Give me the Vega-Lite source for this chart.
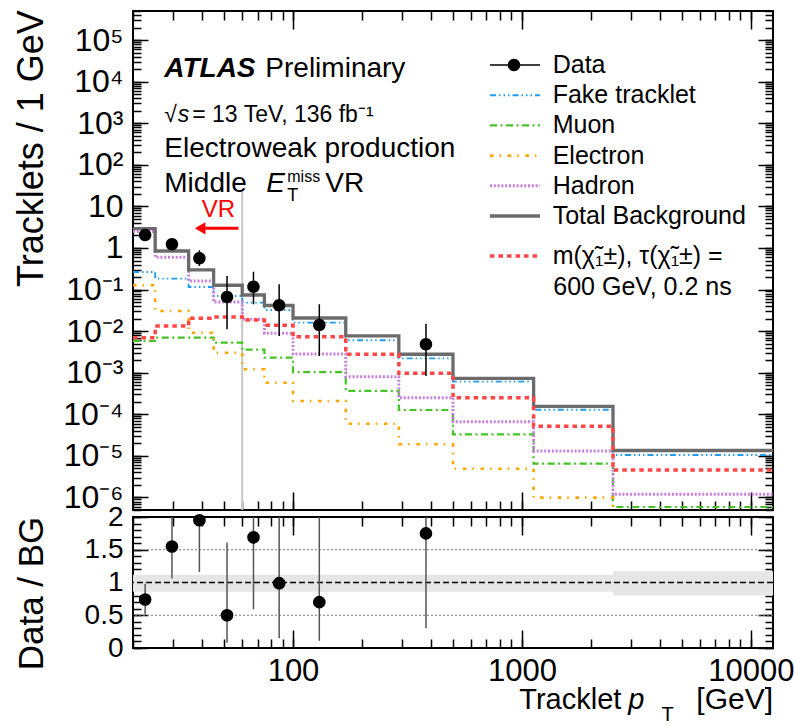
{
  "$schema": "https://vega.github.io/schema/vega-lite/v6.json",
  "background": "white",
  "padding": {"left": 12, "top": 8, "right": 0, "bottom": 0},
  "bounds": "flush",
  "spacing": 7,
  "config": {
    "font": "Liberation Sans",
    "view": {"stroke": "black", "strokeWidth": 2},
    "axis": {"domain": false, "grid": false, "ticks": true, "tickColor": "black", "tickWidth": 1.5, "tickOpacity": 1, "labelColor": "black", "labelFont": "Liberation Sans", "titleFont": "Liberation Sans", "titleColor": "black", "titleFontWeight": "normal", "labelFlush": false, "labelOverlap": false, "labelBound": false, "zindex": 1},
    "legend": {"padding": 0, "labelFont": "Liberation Sans", "labelColor": "black", "labelLimit": 0},
    "text": {"font": "Liberation Sans", "color": "black"}
  },
  "datasets": {
    "hist": [
      {"x": 20, "Fake tracklet": 0.265, "Muon": 0.0058, "Electron": 0.127, "Hadron": 2.5, "Total Background": 2.91, "Signal": 0.00697},
      {"x": 25, "Fake tracklet": 0.183, "Muon": 0.00697, "Electron": 0.0305, "Hadron": 0.6, "Total Background": 0.847, "Signal": 0.0133},
      {"x": 35, "Fake tracklet": 0.115, "Muon": 0.00697, "Electron": 0.00918, "Hadron": 0.161, "Total Background": 0.296, "Signal": 0.0204},
      {"x": 45, "Fake tracklet": 0.0701, "Muon": 0.00528, "Electron": 0.00303, "Hadron": 0.0503, "Total Background": 0.127, "Signal": 0.0219},
      {"x": 60, "Fake tracklet": 0.0484, "Muon": 0.00358, "Electron": 0.00121, "Hadron": 0.0193, "Total Background": 0.0741, "Signal": 0.0186},
      {"x": 75, "Fake tracklet": 0.0323, "Muon": 0.0023, "Electron": 0.000575, "Hadron": 0.00889, "Total Background": 0.0414, "Signal": 0.0138},
      {"x": 100, "Fake tracklet": 0.016, "Muon": 0.00103, "Electron": 0.000209, "Hadron": 0.00282, "Total Background": 0.0207, "Signal": 0.00732},
      {"x": 170, "Fake tracklet": 0.00603, "Muon": 0.000364, "Electron": 0.0000595, "Hadron": 0.000803, "Total Background": 0.00766, "Signal": 0.00278},
      {"x": 290, "Fake tracklet": 0.00222, "Muon": 0.000127, "Electron": 0.000019, "Hadron": 0.000251, "Total Background": 0.00278, "Signal": 0.00097},
      {"x": 500, "Fake tracklet": 0.000609, "Muon": 0.000033, "Electron": 0.00000492, "Hadron": 0.0000664, "Total Background": 0.000735, "Signal": 0.000251},
      {"x": 1125, "Fake tracklet": 0.000129, "Muon": 0.00000649, "Electron": 0.00000099, "Hadron": 0.0000131, "Total Background": 0.000156, "Signal": 0.0000515},
      {"x": 2500, "Fake tracklet": 0.0000105, "Muon": 0.00000059, "Electron": 0.00000001, "Hadron": 0.00000119, "Total Background": 0.0000135, "Signal": 0.00000458},
      {"x": 12500, "Fake tracklet": 0.0000105, "Muon": 0.00000059, "Electron": 0.00000001, "Hadron": 0.00000119, "Total Background": 0.0000135, "Signal": 0.00000458}
    ],
    "pts": [
      {"pt": 22.6, "v": 2.05, "lo": 1.65, "hi": 2.8, "r": 0.74, "rlo": 0.51, "rhi": 0.98, "series": "Data"},
      {"pt": 29.6, "v": 1.23, "lo": 0.95, "hi": 1.6, "r": 1.55, "rlo": 1.06, "rhi": 2.1, "series": "Data"},
      {"pt": 39, "v": 0.565, "lo": 0.369, "hi": 0.88, "r": 1.95, "rlo": 1.16, "rhi": 2.9, "series": "Data"},
      {"pt": 51.5, "v": 0.0663, "lo": 0.0111, "hi": 0.212, "r": 0.5, "rlo": 0.08, "rhi": 1.61, "series": "Data"},
      {"pt": 67.2, "v": 0.117, "lo": 0.0443, "hi": 0.269, "r": 1.69, "rlo": 0.59, "rhi": 3.6, "series": "Data"},
      {"pt": 87, "v": 0.0419, "lo": 0.00765, "hi": 0.134, "r": 0.99, "rlo": 0.15, "rhi": 3.2, "series": "Data"},
      {"pt": 130.3, "v": 0.0141, "lo": 0.00253, "hi": 0.0443, "r": 0.7, "rlo": 0.11, "rhi": 2.14, "series": "Data"},
      {"pt": 381, "v": 0.00483, "lo": 0.000835, "hi": 0.0151, "r": 1.75, "rlo": 0.3, "rhi": 5.4, "series": "Data"}
    ],
    "band": [
      {"a": 20, "b": 2500, "lo": 0.86, "hi": 1.12},
      {"a": 2500, "b": 12500, "lo": 0.8, "hi": 1.17}
    ]
  },
  "vconcat": [
    {
      "width": 640,
      "height": 499,
      "resolve": {"axis": {"x": "independent", "y": "independent"}},
      "layer": [
        {
          "data": {"values": [{}]},
          "mark": {"type": "rule", "color": "#c8c8c8", "strokeWidth": 2},
          "encoding": {
            "x": {"datum": 60, "type": "quantitative", "scale": {"type": "log", "domain": [20, 12500], "nice": false},
              "axis": {"orient": "bottom", "values": [100, 1000, 10000], "labels": false, "title": null, "tickSize": 18, "offset": -18}},
            "y": {"datum": 23.5, "type": "quantitative", "scale": {"type": "log", "domain": [5e-7, 5e5], "nice": false},
              "axis": {"orient": "left", "values": [1e-6, 1e-5, 1e-4, 1e-3, 0.01, 0.1, 1, 10, 100, 1000, 10000, 100000], "tickSize": 15, "offset": -15,
                "labelPadding": 10, "labelFontSize": 32,
                "labelExpr": "['10⁻⁶','10⁻⁵','10⁻⁴','10⁻³','10⁻²','10⁻¹','1','10','10²','10³','10⁴','10⁵'][round(log(datum.value)/LN10) + 6]",
                "title": "Tracklets / 1 GeV", "titleFontSize": 36, "titleX": -117, "titleY": 137, "titleAngle": -90, "titleAlign": "center", "titleBaseline": "middle"}},
            "y2": {"datum": 5e-7}
          }
        },
        {
          "data": {"name": "hist"},
          "transform": [{"fold": ["Fake tracklet", "Muon", "Electron", "Hadron", "Total Background"], "as": ["series", "v"]}],
          "mark": {"type": "line", "interpolate": "step-after", "clip": true, "strokeCap": "butt"},
          "encoding": {
            "x": {"field": "x", "type": "quantitative", "scale": {"type": "log", "domain": [20, 12500], "nice": false},
              "axis": {"orient": "bottom", "values": [20,30,40,50,60,70,80,90,100,200,300,400,500,600,700,800,900,1000,2000,3000,4000,5000,6000,7000,8000,9000,10000], "labels": false, "title": null, "tickSize": 9, "offset": -9}},
            "y": {"field": "v", "type": "quantitative", "scale": {"type": "log", "domain": [5e-7, 5e5], "nice": false},
              "axis": {"orient": "left", "tickCount": 150, "labels": false, "title": null, "tickSize": 8, "offset": -8}},
            "color": {"field": "series", "type": "nominal",
              "scale": {"domain": ["Data", "Fake tracklet", "Muon", "Electron", "Hadron", "Total Background"], "range": ["black", "#1f9bf0", "#44c424", "#ffa500", "#c87fdc", "#6b6b6b"]},
              "legend": {"orient": "none", "legendX": 355, "legendY": 41.5, "title": null, "symbolType": "stroke", "symbolSize": 2500, "clipHeight": 25, "rowPadding": 4.2, "labelFontSize": 25, "labelOffset": 10.7}},
            "strokeDash": {"field": "series", "type": "nominal",
              "scale": {"domain": ["Data", "Fake tracklet", "Muon", "Electron", "Hadron", "Total Background"], "range": [[1,0], [6,3,1.5,3,1.5,3,1.5,3], [7,3.5,2,3.5], [3.5,6,1.5,6.7], [2,1.8], [1,0]]},
              "legend": {"orient": "none", "legendX": 355, "legendY": 41.5, "title": null, "symbolType": "stroke", "symbolSize": 2500, "clipHeight": 25, "rowPadding": 4.2, "labelFontSize": 25, "labelOffset": 10.7}},
            "strokeWidth": {"field": "series", "type": "nominal",
              "scale": {"domain": ["Data", "Fake tracklet", "Muon", "Electron", "Hadron", "Total Background"], "range": [1.5, 3.3, 3.3, 3.3, 3.3, 4]},
              "legend": {"orient": "none", "legendX": 355, "legendY": 41.5, "title": null, "symbolType": "stroke", "symbolSize": 2500, "clipHeight": 25, "rowPadding": 4.2, "labelFontSize": 25, "labelOffset": 10.7}}
          }
        },
        {
          "data": {"name": "hist"},
          "mark": {"type": "line", "interpolate": "step-after", "clip": true, "strokeCap": "butt", "strokeDash": [4.5, 4], "strokeWidth": 3.5},
          "encoding": {
            "x": {"field": "x", "type": "quantitative", "scale": {"type": "log", "domain": [20, 12500], "nice": false},
              "axis": {"orient": "top", "values": [100, 1000, 10000], "labels": false, "title": null, "tickSize": 18, "offset": -18}},
            "y": {"field": "Signal", "type": "quantitative", "scale": {"type": "log", "domain": [5e-7, 5e5], "nice": false},
              "axis": {"orient": "right", "values": [1e-6, 1e-5, 1e-4, 1e-3, 0.01, 0.1, 1, 10, 100, 1000, 10000, 100000], "labels": false, "title": null, "tickSize": 15, "offset": -15}},
            "stroke": {"datum": "Signal", "type": "nominal", "scale": {"domain": ["Signal"], "range": ["#ff4646"]},
              "legend": {"orient": "none", "legendX": 355, "legendY": 232.5, "title": null, "symbolType": "stroke", "symbolSize": 2500, "clipHeight": 25, "labelFontSize": 25, "labelOffset": 10.7, "symbolStrokeWidth": 3.5, "symbolDash": [4.5, 4], "labelExpr": "'m(χ̃₁±), τ(χ̃₁±) ='"}}
          }
        },
        {
          "data": {"name": "pts"},
          "mark": {"type": "rule", "clip": true},
          "encoding": {
            "x": {"field": "pt", "type": "quantitative", "scale": {"type": "log", "domain": [20, 12500], "nice": false},
              "axis": {"orient": "top", "values": [20,30,40,50,60,70,80,90,100,200,300,400,500,600,700,800,900,1000,2000,3000,4000,5000,6000,7000,8000,9000,10000], "labels": false, "title": null, "tickSize": 9, "offset": -9}},
            "y": {"field": "lo", "type": "quantitative", "scale": {"type": "log", "domain": [5e-7, 5e5], "nice": false},
              "axis": {"orient": "right", "tickCount": 150, "labels": false, "title": null, "tickSize": 8, "offset": -8}},
            "y2": {"field": "hi"},
            "color": {"field": "series", "type": "nominal",
              "scale": {"domain": ["Data", "Fake tracklet", "Muon", "Electron", "Hadron", "Total Background"], "range": ["black", "#1f9bf0", "#44c424", "#ffa500", "#c87fdc", "#6b6b6b"]},
              "legend": {"orient": "none", "legendX": 355, "legendY": 41.5, "title": null, "symbolType": "stroke", "symbolSize": 2500, "clipHeight": 25, "rowPadding": 4.2, "labelFontSize": 25, "labelOffset": 10.7}},
            "strokeDash": {"field": "series", "type": "nominal",
              "scale": {"domain": ["Data", "Fake tracklet", "Muon", "Electron", "Hadron", "Total Background"], "range": [[1,0], [6,3,1.5,3,1.5,3,1.5,3], [7,3.5,2,3.5], [3.5,6,1.5,6.7], [2,1.8], [1,0]]},
              "legend": {"orient": "none", "legendX": 355, "legendY": 41.5, "title": null, "symbolType": "stroke", "symbolSize": 2500, "clipHeight": 25, "rowPadding": 4.2, "labelFontSize": 25, "labelOffset": 10.7}},
            "strokeWidth": {"field": "series", "type": "nominal",
              "scale": {"domain": ["Data", "Fake tracklet", "Muon", "Electron", "Hadron", "Total Background"], "range": [1.5, 3.3, 3.3, 3.3, 3.3, 4]},
              "legend": {"orient": "none", "legendX": 355, "legendY": 41.5, "title": null, "symbolType": "stroke", "symbolSize": 2500, "clipHeight": 25, "rowPadding": 4.2, "labelFontSize": 25, "labelOffset": 10.7}}
          }
        },
        {
          "data": {"name": "pts"},
          "mark": {"type": "point", "filled": true, "color": "black", "size": 2500, "opacity": 1},
          "encoding": {
            "x": {"field": "pt", "type": "quantitative", "scale": {"type": "log", "domain": [20, 12500], "nice": false}, "axis": null},
            "y": {"field": "v", "type": "quantitative", "scale": {"type": "log", "domain": [5e-7, 5e5], "nice": false}, "axis": null},
            "shape": {"field": "series", "type": "nominal",
              "scale": {"domain": ["Data"], "range": ["M-1,0H1M0.25,0A0.25,0.25,0,1,1,-0.25,0A0.25,0.25,0,1,1,0.25,0Z"]},
              "legend": {"orient": "none", "legendX": 355, "legendY": 41.5, "title": null, "symbolSize": 2500, "clipHeight": 25, "labelFontSize": 25, "labelOffset": 10.7, "labelExpr": "''"}}
          }
        },
        {
          "data": {"values": [{}]},
          "mark": {"type": "rule", "color": "#ff0000", "strokeWidth": 3},
          "encoding": {
            "x": {"datum": 40, "type": "quantitative", "scale": {"type": "log", "domain": [20, 12500], "nice": false}, "axis": null},
            "x2": {"datum": 57.8},
            "y": {"datum": 2.98, "type": "quantitative", "scale": {"type": "log", "domain": [5e-7, 5e5], "nice": false}, "axis": null}
          }
        },
        {
          "data": {"values": [{}]},
          "mark": {"type": "point", "shape": "triangle-left", "filled": true, "color": "#ff0000", "size": 150, "opacity": 1},
          "encoding": {
            "x": {"datum": 39.3, "type": "quantitative", "scale": {"type": "log", "domain": [20, 12500], "nice": false}, "axis": null},
            "y": {"datum": 2.98, "type": "quantitative", "scale": {"type": "log", "domain": [5e-7, 5e5], "nice": false}, "axis": null}
          }
        },
        {
          "data": {"values": [{}]},
          "mark": {"type": "text", "text": "VR", "color": "#ff0000", "fontSize": 24, "align": "center", "baseline": "alphabetic"},
          "encoding": {
            "x": {"datum": 47.2, "type": "quantitative", "scale": {"type": "log", "domain": [20, 12500], "nice": false}, "axis": null},
            "y": {"datum": 5.57, "type": "quantitative", "scale": {"type": "log", "domain": [5e-7, 5e5], "nice": false}, "axis": null}
          }
        },
        {
          "data": {"values": [{}]},
          "mark": {"type": "text", "text": "ATLAS", "fontSize": 28, "fontWeight": "bold", "fontStyle": "italic", "align": "left", "baseline": "alphabetic"},
          "encoding": {
            "x": {"datum": 27.4, "type": "quantitative", "scale": {"type": "log", "domain": [20, 12500], "nice": false}, "axis": null},
            "y": {"datum": 12970, "type": "quantitative", "scale": {"type": "log", "domain": [5e-7, 5e5], "nice": false}, "axis": null}
          }
        },
        {
          "data": {"values": [{}]},
          "mark": {"type": "text", "text": "Preliminary", "fontSize": 28, "align": "left", "baseline": "alphabetic"},
          "encoding": {
            "x": {"datum": 75.7, "type": "quantitative", "scale": {"type": "log", "domain": [20, 12500], "nice": false}, "axis": null},
            "y": {"datum": 12970, "type": "quantitative", "scale": {"type": "log", "domain": [5e-7, 5e5], "nice": false}, "axis": null}
          }
        },
        {
          "data": {"values": [{}]},
          "mark": {"type": "text", "text": "√", "fontSize": 23, "align": "left", "baseline": "alphabetic"},
          "encoding": {
            "x": {"datum": 27.4, "type": "quantitative", "scale": {"type": "log", "domain": [20, 12500], "nice": false}, "axis": null},
            "y": {"datum": 1072, "type": "quantitative", "scale": {"type": "log", "domain": [5e-7, 5e5], "nice": false}, "axis": null}
          }
        },
        {
          "data": {"values": [{}]},
          "mark": {"type": "text", "text": "s", "fontSize": 23, "fontStyle": "italic", "align": "left", "baseline": "alphabetic"},
          "encoding": {
            "x": {"datum": 31.4, "type": "quantitative", "scale": {"type": "log", "domain": [20, 12500], "nice": false}, "axis": null},
            "y": {"datum": 1072, "type": "quantitative", "scale": {"type": "log", "domain": [5e-7, 5e5], "nice": false}, "axis": null}
          }
        },
        {
          "data": {"values": [{}]},
          "mark": {"type": "text", "text": "= 13 TeV, 136 fb⁻¹", "fontSize": 23, "align": "left", "baseline": "alphabetic"},
          "encoding": {
            "x": {"datum": 36.3, "type": "quantitative", "scale": {"type": "log", "domain": [20, 12500], "nice": false}, "axis": null},
            "y": {"datum": 1072, "type": "quantitative", "scale": {"type": "log", "domain": [5e-7, 5e5], "nice": false}, "axis": null}
          }
        },
        {
          "data": {"values": [{}]},
          "mark": {"type": "text", "text": "Electroweak production", "fontSize": 28, "align": "left", "baseline": "alphabetic"},
          "encoding": {
            "x": {"datum": 27.4, "type": "quantitative", "scale": {"type": "log", "domain": [20, 12500], "nice": false}, "axis": null},
            "y": {"datum": 150, "type": "quantitative", "scale": {"type": "log", "domain": [5e-7, 5e5], "nice": false}, "axis": null}
          }
        },
        {
          "data": {"values": [{}]},
          "mark": {"type": "text", "text": "Middle", "fontSize": 28, "align": "left", "baseline": "alphabetic"},
          "encoding": {
            "x": {"datum": 27.4, "type": "quantitative", "scale": {"type": "log", "domain": [20, 12500], "nice": false}, "axis": null},
            "y": {"datum": 21.6, "type": "quantitative", "scale": {"type": "log", "domain": [5e-7, 5e5], "nice": false}, "axis": null}
          }
        },
        {
          "data": {"values": [{}]},
          "mark": {"type": "text", "text": "E", "fontSize": 28, "fontStyle": "italic", "align": "left", "baseline": "alphabetic"},
          "encoding": {
            "x": {"datum": 76.4, "type": "quantitative", "scale": {"type": "log", "domain": [20, 12500], "nice": false}, "axis": null},
            "y": {"datum": 21.6, "type": "quantitative", "scale": {"type": "log", "domain": [5e-7, 5e5], "nice": false}, "axis": null}
          }
        },
        {
          "data": {"values": [{}]},
          "mark": {"type": "text", "text": "miss", "fontSize": 16, "align": "left", "baseline": "alphabetic"},
          "encoding": {
            "x": {"datum": 94.4, "type": "quantitative", "scale": {"type": "log", "domain": [20, 12500], "nice": false}, "axis": null},
            "y": {"datum": 38.7, "type": "quantitative", "scale": {"type": "log", "domain": [5e-7, 5e5], "nice": false}, "axis": null}
          }
        },
        {
          "data": {"values": [{}]},
          "mark": {"type": "text", "text": "T", "fontSize": 18, "align": "left", "baseline": "alphabetic"},
          "encoding": {
            "x": {"datum": 94.4, "type": "quantitative", "scale": {"type": "log", "domain": [20, 12500], "nice": false}, "axis": null},
            "y": {"datum": 13.5, "type": "quantitative", "scale": {"type": "log", "domain": [5e-7, 5e5], "nice": false}, "axis": null}
          }
        },
        {
          "data": {"values": [{}]},
          "mark": {"type": "text", "text": "VR", "fontSize": 28, "align": "left", "baseline": "alphabetic"},
          "encoding": {
            "x": {"datum": 138.4, "type": "quantitative", "scale": {"type": "log", "domain": [20, 12500], "nice": false}, "axis": null},
            "y": {"datum": 21.6, "type": "quantitative", "scale": {"type": "log", "domain": [5e-7, 5e5], "nice": false}, "axis": null}
          }
        },
        {
          "data": {"values": [{}]},
          "mark": {"type": "text", "text": "600 GeV, 0.2 ns", "fontSize": 25, "align": "left", "baseline": "alphabetic"},
          "encoding": {
            "x": {"datum": 1371, "type": "quantitative", "scale": {"type": "log", "domain": [20, 12500], "nice": false}, "axis": null},
            "y": {"datum": 0.0741, "type": "quantitative", "scale": {"type": "log", "domain": [5e-7, 5e5], "nice": false}, "axis": null}
          }
        }
      ]
    },
    {
      "width": 640,
      "height": 131,
      "resolve": {"axis": {"x": "independent", "y": "independent"}},
      "layer": [
        {
          "data": {"name": "band"},
          "mark": {"type": "rect", "fill": "#e6e6e6"},
          "encoding": {
            "x": {"field": "a", "type": "quantitative", "scale": {"type": "log", "domain": [20, 12500], "nice": false},
              "axis": {"orient": "bottom", "values": [100, 1000, 10000], "title": null, "tickSize": 18, "offset": -18, "labelPadding": 8, "labelFontSize": 31, "labelExpr": "format(datum.value, 'd')"}},
            "x2": {"field": "b"},
            "y": {"field": "lo", "type": "quantitative", "scale": {"domain": [0, 2], "nice": false, "zero": false},
              "axis": {"orient": "left", "values": [0, 0.5, 1, 1.5, 2], "tickSize": 15, "offset": -15, "labelPadding": 10, "labelFontSize": 28, "labelExpr": "format(datum.value, '~g')",
                "title": "Data / BG", "titleFontSize": 35, "titleX": -117, "titleY": 76, "titleAngle": -90, "titleAlign": "center", "titleBaseline": "middle"}},
            "y2": {"field": "hi"}
          }
        },
        {
          "data": {"values": [{}]},
          "mark": {"type": "rule", "color": "#777777", "strokeDash": [2, 2], "strokeWidth": 1.2},
          "encoding": {"y": {"datum": 0.5, "type": "quantitative", "scale": {"domain": [0, 2], "nice": false, "zero": false},
            "axis": {"orient": "left", "values": [0,0.1,0.2,0.3,0.4,0.5,0.6,0.7,0.8,0.9,1,1.1,1.2,1.3,1.4,1.5,1.6,1.7,1.8,1.9,2], "labels": false, "title": null, "tickSize": 8, "offset": -8}}}
        },
        {
          "data": {"values": [{}]},
          "mark": {"type": "rule", "color": "#777777", "strokeDash": [2, 2], "strokeWidth": 1.2},
          "encoding": {"y": {"datum": 1.5, "type": "quantitative", "scale": {"domain": [0, 2], "nice": false, "zero": false},
            "axis": {"orient": "right", "values": [0, 0.5, 1, 1.5, 2], "labels": false, "title": null, "tickSize": 15, "offset": -15}}}
        },
        {
          "data": {"values": [{}]},
          "mark": {"type": "rule", "color": "black", "strokeDash": [6, 3], "strokeWidth": 1.5},
          "encoding": {"y": {"datum": 1, "type": "quantitative", "scale": {"domain": [0, 2], "nice": false, "zero": false},
            "axis": {"orient": "right", "values": [0,0.1,0.2,0.3,0.4,0.5,0.6,0.7,0.8,0.9,1,1.1,1.2,1.3,1.4,1.5,1.6,1.7,1.8,1.9,2], "labels": false, "title": null, "tickSize": 8, "offset": -8}}}
        },
        {
          "data": {"name": "pts"},
          "mark": {"type": "rule", "color": "#555555", "strokeWidth": 1.5, "clip": true},
          "encoding": {
            "x": {"field": "pt", "type": "quantitative", "scale": {"type": "log", "domain": [20, 12500], "nice": false},
              "axis": {"orient": "bottom", "values": [20,30,40,50,60,70,80,90,100,200,300,400,500,600,700,800,900,1000,2000,3000,4000,5000,6000,7000,8000,9000,10000], "labels": false, "title": null, "tickSize": 9, "offset": -9}},
            "y": {"field": "rlo", "type": "quantitative", "scale": {"domain": [0, 2], "nice": false, "zero": false}, "axis": null},
            "y2": {"field": "rhi"}
          }
        },
        {
          "data": {"name": "pts"},
          "mark": {"type": "point", "filled": true, "color": "black", "size": 160, "shape": "circle", "opacity": 1},
          "encoding": {
            "x": {"field": "pt", "type": "quantitative", "scale": {"type": "log", "domain": [20, 12500], "nice": false},
              "axis": {"orient": "top", "values": [100, 1000, 10000], "labels": false, "title": null, "tickSize": 18, "offset": -18}},
            "y": {"field": "r", "type": "quantitative", "scale": {"domain": [0, 2], "nice": false, "zero": false}, "axis": null}
          }
        },
        {
          "data": {"values": [{}]},
          "mark": {"type": "text", "text": "Tracklet", "fontSize": 29, "align": "left", "baseline": "alphabetic"},
          "encoding": {
            "x": {"datum": 974, "type": "quantitative", "scale": {"type": "log", "domain": [20, 12500], "nice": false},
              "axis": {"orient": "top", "values": [20,30,40,50,60,70,80,90,100,200,300,400,500,600,700,800,900,1000,2000,3000,4000,5000,6000,7000,8000,9000,10000], "labels": false, "title": null, "tickSize": 9, "offset": -9}},
            "y": {"datum": -0.931, "type": "quantitative", "scale": {"domain": [0, 2], "nice": false, "zero": false}, "axis": null}
          }
        },
        {
          "data": {"values": [{}]},
          "mark": {"type": "text", "text": "p", "fontSize": 29, "fontStyle": "italic", "align": "left", "baseline": "alphabetic"},
          "encoding": {
            "x": {"datum": 2916, "type": "quantitative", "scale": {"type": "log", "domain": [20, 12500], "nice": false}, "axis": null},
            "y": {"datum": -0.931, "type": "quantitative", "scale": {"domain": [0, 2], "nice": false, "zero": false}, "axis": null}
          }
        },
        {
          "data": {"values": [{}]},
          "mark": {"type": "text", "text": "T", "fontSize": 20, "align": "left", "baseline": "alphabetic"},
          "encoding": {
            "x": {"datum": 4069, "type": "quantitative", "scale": {"type": "log", "domain": [20, 12500], "nice": false}, "axis": null},
            "y": {"datum": -1.12, "type": "quantitative", "scale": {"domain": [0, 2], "nice": false, "zero": false}, "axis": null}
          }
        },
        {
          "data": {"values": [{}]},
          "mark": {"type": "text", "text": "[GeV]", "fontSize": 30, "align": "right", "baseline": "alphabetic"},
          "encoding": {
            "x": {"datum": 12500, "type": "quantitative", "scale": {"type": "log", "domain": [20, 12500], "nice": false}, "axis": null},
            "y": {"datum": -0.931, "type": "quantitative", "scale": {"domain": [0, 2], "nice": false, "zero": false}, "axis": null}
          }
        }
      ]
    }
  ]
}
